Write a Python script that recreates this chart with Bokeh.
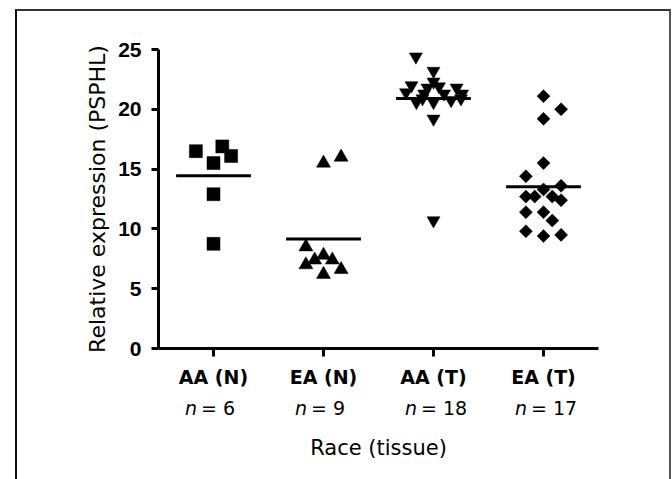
import numpy as np
from bokeh.plotting import figure
from bokeh.layouts import column
from bokeh.models import Range1d, FixedTicker
from bokeh.core.properties import value
from bokeh.embed import file_html
from bokeh.resources import INLINE

# ---- data ----
categories = ["AA (N)", "EA (N)", "AA (T)", "EA (T)"]
n_counts = ["6", "9", "18", "17"]

aa_n_values = [16.5, 16.9, 16.1, 15.5, 12.9, 8.75]
aa_n_jitter = [-0.16, 0.08, 0.16, 0.0, 0.0, 0.0]

ea_n_values = [15.5, 16.0, 8.5, 7.8, 7.4, 7.4, 7.0, 6.6, 6.2]
ea_n_jitter = [0.0, 0.16, -0.16, 0.0, -0.08, 0.08, -0.16, 0.16, 0.0]

aa_t_values = [24.4, 23.2, 22.0, 22.3, 21.8, 21.9, 21.8, 21.4, 21.3,
               21.3, 21.3, 20.6, 20.6, 20.75, 20.9, 19.2, 10.7, 20.9]
aa_t_jitter = [-0.16, 0.0, -0.2, 0.0, -0.055, 0.05, 0.21, -0.25, -0.085,
               0.096, 0.26, -0.155, 0.0, 0.16, 0.25, 0.0, 0.0, -0.1]

ea_t_values = [21.1, 20.0, 19.2, 15.5, 14.4, 13.3, 13.6, 12.7, 12.7,
               12.7, 12.4, 11.4, 11.4, 10.7, 9.8, 9.4, 9.5]
ea_t_jitter = [0.0, 0.16, 0.0, 0.0, -0.16, 0.0, 0.16, -0.16, -0.08,
               0.08, 0.16, -0.16, 0.0, 0.08, -0.16, 0.0, 0.16]

y_ticks = [0, 5, 10, 15, 20, 25]
x_title = "Race (tissue)"
y_title = "Relative expression (PSPHL)"

SANS = "Liberation Sans"
WIDE = "DejaVu Sans"

# ---- main plot ----
p = figure(width=652, height=381, output_backend="svg", toolbar_location=None,
           x_range=Range1d(0.5, 4.5), y_range=Range1d(0, 25),
           min_border_left=141, min_border_right=71,
           min_border_top=38, min_border_bottom=44)
p.outline_line_color = None
p.grid.visible = False
p.background_fill_color = "white"
p.border_fill_color = "white"

groups = [
    (1, aa_n_values, aa_n_jitter, "square", 13, 0.0),
    (2, ea_n_values, ea_n_jitter, "triangle", 14, 0.0),
    (3, aa_t_values, aa_t_jitter, "inverted_triangle", 13, 0.0),
    (4, ea_t_values, ea_t_jitter, "square", 9.2, np.pi / 4),
]
for pos, vals, jit, marker, size, ang in groups:
    xs = [pos + j for j in jit]
    p.scatter(xs, vals, marker=marker, size=size, angle=ang,
              fill_color="black", line_color="black", line_width=0.5)
    m = float(np.mean(vals))
    p.segment(x0=[pos - 0.34], y0=[m], x1=[pos + 0.34], y1=[m],
              line_color="black", line_width=3)

for ax in (p.xaxis[0], p.yaxis[0]):
    ax.axis_line_width = 3
    ax.major_tick_line_width = 3
    ax.major_tick_in = 0
    ax.major_tick_out = 7
    ax.minor_tick_line_color = None
    ax.major_label_text_font_style = "bold"
    ax.major_label_text_color = "black"
    ax.axis_line_color = "black"
    ax.major_tick_line_color = "black"

p.yaxis.ticker = FixedTicker(ticks=y_ticks)
p.yaxis.major_label_text_font = SANS
p.yaxis.major_label_text_font_size = "21px"
p.yaxis.major_label_standoff = 10
p.yaxis.axis_label = y_title
p.yaxis.axis_label_text_font = WIDE
p.yaxis.axis_label_text_font_size = "22px"
p.yaxis.axis_label_text_font_style = "normal"
p.yaxis.axis_label_text_color = "black"
p.yaxis.axis_label_standoff = 5

p.xaxis.ticker = FixedTicker(ticks=[1, 2, 3, 4])
p.xaxis.major_label_overrides = {i + 1: c for i, c in enumerate(categories)}
p.xaxis.major_label_text_font = WIDE
p.xaxis.major_label_text_font_size = "19px"
p.xaxis.major_label_standoff = 9
p.xaxis.major_tick_out = 8

# ---- lower strip with "n = k" and the x title (same x scale) ----
q = figure(width=652, height=87, output_backend="svg", toolbar_location=None,
           x_range=p.x_range, y_range=Range1d(87, 0),
           x_axis_location=None, y_axis_location=None,
           min_border_left=141, min_border_right=71,
           min_border_top=0, min_border_bottom=0)
q.outline_line_color = None
q.grid.visible = False
q.background_fill_color = "white"
q.border_fill_color = "white"

cats = [1, 2, 3, 4]
q.text(x=cats, y=[15] * 4, text=["n"] * 4, x_offset=-16.5,
       text_align="right", text_baseline="alphabetic",
       text_font=value(WIDE), text_font_style="italic",
       text_font_size="19px", text_color="black")
q.text(x=cats, y=[15] * 4, text=["= " + n for n in n_counts], x_offset=-12.5,
       text_align="left", text_baseline="alphabetic",
       text_font=value(WIDE), text_font_size="19px", text_color="black")
q.text(x=[2.5], y=[55], text=[x_title], text_align="center",
       text_baseline="alphabetic", text_font=value(WIDE),
       text_font_size="21px", text_color="black")

layout = column(p, q, spacing=0,
                styles={"margin-left": "15px", "margin-top": "9px",
                        "border-top": "2px solid #333",
                        "border-left": "2px solid #111",
                        "border-right": "2px solid #555"})

open("out.html", "w").write(file_html(layout, INLINE))
